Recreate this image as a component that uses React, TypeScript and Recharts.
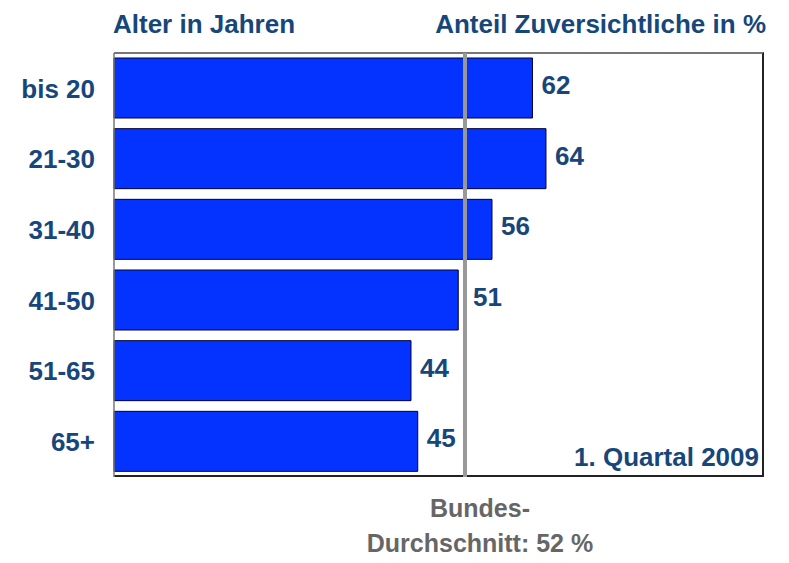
import { BarChart, Bar, XAxis, YAxis, ReferenceLine, LabelList } from "recharts";

const ageGroups = ["bis 20", "21-30", "31-40", "41-50", "51-65", "65+"];
const confidentShare = [62, 64, 56, 51, 44, 45];
const nationalAverage = 52;

const data = ageGroups.map((age, i) => ({ age, share: confidentShare[i] }));

const BLUE_TEXT = "#17477a";
const FONT = "'Liberation Sans', Arial, sans-serif";

// value label right of the bar, pushed past the average line if it would touch it
const ValueLabel = (props: any) => {
  const { x, y, width, height, value } = props;
  const end = x + width;
  const refX = x + (width * nationalAverage) / value;
  let lx = end + 9;
  if (lx < refX + 6 && lx + 32 > refX - 6) lx = refX + 8;
  return (
    <text
      x={lx}
      y={y + height / 2 - 1}
      fill={BLUE_TEXT}
      fontSize={26}
      fontWeight="bold"
      fontFamily={FONT}
      dominantBaseline="middle"
    >
      {value}
    </text>
  );
};

const AverageLabel = (props: any) => {
  const { viewBox } = props;
  const cx = viewBox.x + 15;
  const base = viewBox.y + viewBox.height;
  return (
    <g fill="#666" fontSize={25} fontWeight="bold" fontFamily={FONT} textAnchor="middle">
      <text x={cx} y={base + 40}>Bundes-</text>
      <text x={cx} y={base + 75}>Durchschnitt: {nationalAverage} %</text>
    </g>
  );
};

export default function App() {
  return (
    <div style={{ position: "absolute", left: 0, top: 0, width: 789, height: 563, background: "#fff", fontFamily: FONT }}>
      <div style={{ position: "absolute", left: 113, top: 9, fontSize: 26, fontWeight: "bold", color: BLUE_TEXT }}>
        Alter in Jahren
      </div>
      <div style={{ position: "absolute", right: 23, top: 9, fontSize: 26, fontWeight: "bold", color: BLUE_TEXT }}>
        Anteil Zuversichtliche in %
      </div>
      {/* plot frame: gray top, dark right and bottom */}
      <div
        style={{
          position: "absolute",
          left: 114,
          top: 52,
          width: 650,
          height: 425,
          borderTop: "2px solid #777",
          borderRight: "2px solid #222",
          borderBottom: "2px solid #222",
          boxSizing: "border-box",
          pointerEvents: "none",
        }}
      />
      <BarChart
        width={789}
        height={563}
        data={data}
        layout="vertical"
        margin={{ top: 53, right: 25, bottom: 86, left: 0 }}
        style={{ position: "absolute", left: 0, top: 0 }}
      >
        <XAxis type="number" domain={[0, 96.3]} hide />
        <YAxis
          type="category"
          dataKey="age"
          width={114}
          tickLine={false}
          axisLine={{ stroke: "#777", strokeWidth: 1.5 }}
          tickMargin={13}
          tick={{ fill: BLUE_TEXT, fontSize: 26, fontWeight: "bold", fontFamily: FONT }}
        />
        <Bar
          dataKey="share"
          fill="#0433ff"
          stroke="#00003a"
          strokeWidth={1}
          barSize={60}
          isAnimationActive={false}
        >
          <LabelList dataKey="share" content={ValueLabel} />
        </Bar>
        <ReferenceLine
          x={nationalAverage}
          stroke="#999"
          strokeWidth={4}
          label={<AverageLabel />}
        />
      </BarChart>
      <div style={{ position: "absolute", right: 30, top: 442, fontSize: 26, fontWeight: "bold", color: BLUE_TEXT }}>
        1. Quartal 2009
      </div>
    </div>
  );
}
